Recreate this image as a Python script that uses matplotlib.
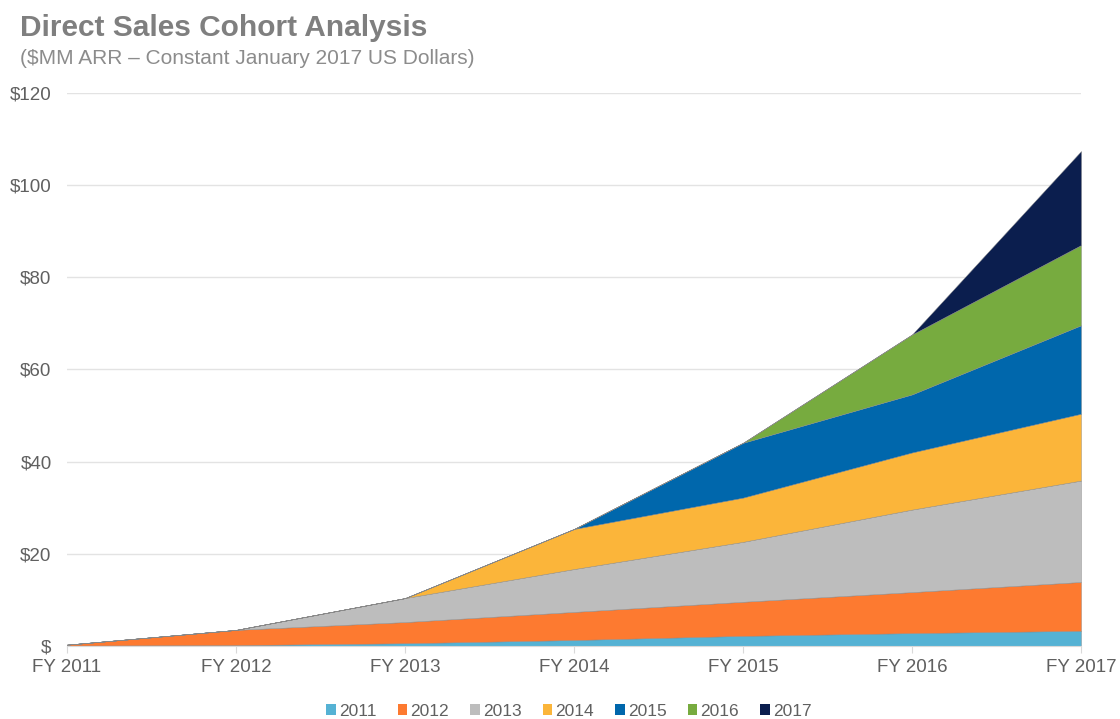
import matplotlib
matplotlib.use("Agg")
import matplotlib.pyplot as plt
from matplotlib.patches import Patch

plt.rcParams["font.family"] = ["Liberation Sans", "DejaVu Sans"]

years = ["FY 2011", "FY 2012", "FY 2013", "FY 2014", "FY 2015", "FY 2016", "FY 2017"]
cohorts = ["2011", "2012", "2013", "2014", "2015", "2016", "2017"]
c2011 = [0.1, 0.2, 0.6, 1.3, 2.2, 2.8, 3.3]
c2012 = [0.2, 3.3, 4.6, 6.1, 7.4, 8.9, 10.6]
c2013 = [0.0, 0.0, 5.2, 9.3, 13.0, 17.9, 22.0]
c2014 = [0.0, 0.0, 0.0, 8.7, 9.6, 12.4, 14.5]
c2015 = [0.0, 0.0, 0.0, 0.0, 11.9, 12.6, 19.2]
c2016 = [0.0, 0.0, 0.0, 0.0, 0.0, 13.0, 17.4]
c2017 = [0.0, 0.0, 0.0, 0.0, 0.0, 0.0, 20.4]
yticks = [0, 20, 40, 60, 80, 100, 120]
ytick_labels = ["$", "$20", "$40", "$60", "$80", "$100", "$120"]

colors = ["#55B2D4", "#FD7A30", "#BDBDBD", "#FBB53A", "#0067AC", "#77AB3F", "#0B1E4E"]

fig = plt.figure(figsize=(11.2, 7.19), dpi=100)
ax = fig.add_axes([0.0598, 0.1015, 0.9054, 0.7692])

series = [c2011, c2012, c2013, c2014, c2015, c2016, c2017]
x = list(range(len(years)))
ax.stackplot(x, *series, colors=colors, edgecolor="#888888", linewidth=0.3, zorder=2)

ax.set_xlim(0, len(years) - 1)
ax.set_ylim(0, 120)
ax.set_yticks(yticks)
ax.set_yticklabels(ytick_labels)
ax.set_xticks(x)
ax.set_xticklabels(years)
ax.grid(axis="y", color="#E3E3E3", linewidth=1.0, zorder=0)
ax.set_axisbelow(True)
for s in ["top", "right", "left"]:
    ax.spines[s].set_visible(False)
ax.spines["bottom"].set_color("#D9D9D9")
ax.spines["bottom"].set_zorder(3)
ax.tick_params(axis="y", length=0, pad=11, labelsize=13.5, labelcolor="#606060")
ax.tick_params(axis="x", length=5, color="#D9D9D9", pad=4, labelsize=13.5, labelcolor="#606060")

fig.text(0.018, 0.961, "Direct Sales Cohort Analysis", fontsize=21.5, fontweight="bold",
         color="#7F7F7F", ha="left", va="center")
fig.text(0.018, 0.919, "($MM ARR \u2013 Constant January 2017 US Dollars)", fontsize=15,
         color="#8C8C8C", ha="left", va="center")

handles = [Patch(facecolor=c, edgecolor="none") for c in colors]
leg = fig.legend(handles, cohorts, loc="center", bbox_to_anchor=(0.508, 0.011), ncol=7,
                 frameon=False, fontsize=12.5, handlelength=0.55, handleheight=0.55,
                 handletextpad=0.2, columnspacing=1.2)
for t in leg.get_texts():
    t.set_color("#606060")

fig.savefig("out.png", dpi=100)
